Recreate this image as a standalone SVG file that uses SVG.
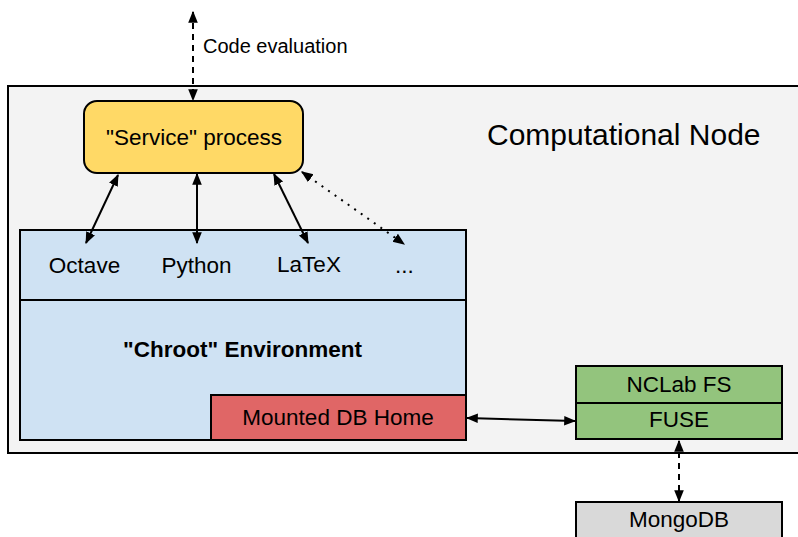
<svg xmlns="http://www.w3.org/2000/svg" width="798" height="537" viewBox="0 0 798 537">
<defs>
<style>
text{font-family:"Liberation Sans",Arial,sans-serif;fill:#000;font-size:22.5px}
.box{stroke:#000;stroke-width:2}
.ln{stroke:#000;stroke-width:2;fill:none}
.mid{text-anchor:middle}
</style>
<marker id="ahs" viewBox="0 0 10 10" refX="9" refY="5" markerWidth="12" markerHeight="12" orient="auto-start-reverse" markerUnits="userSpaceOnUse">
<path d="M0,1 L10,5 L0,9 z" fill="#000"/>
</marker>
</defs>
<rect width="798" height="537" fill="#fff"/>
<g id="computational-node">
<rect class="box" x="8" y="86" width="800" height="367" fill="#f3f3f3"/>
<text x="487" y="145" style="font-size:30px">Computational Node</text>
</g>
<g id="service-process">
<rect class="box" x="84" y="101" width="219" height="72" rx="13" fill="#ffd966"/>
<text class="mid" x="194" y="145">"Service" process</text>
</g>
<g id="chroot">
<rect class="box" x="20" y="230" width="446" height="210" fill="#cfe2f3"/>
<line class="ln" x1="20" y1="300" x2="466" y2="300"/>
<text class="mid" x="84.5" y="273">Octave</text>
<text class="mid" x="196.5" y="273">Python</text>
<text class="mid" x="309" y="271.5">LaTeX</text>
<text class="mid" x="404.5" y="273">...</text>
<text class="mid" x="242.5" y="357" font-weight="bold">"Chroot" Environment</text>
</g>
<g id="mounted-db-home">
<rect class="box" x="211" y="395" width="255" height="45" fill="#e06666"/>
<text class="mid" x="338" y="425">Mounted DB Home</text>
</g>
<g id="nclab-fs">
<rect class="box" x="576" y="366" width="206" height="37" fill="#93c47d"/>
<text class="mid" x="679" y="392">NCLab FS</text>
</g>
<g id="fuse">
<rect class="box" x="576" y="403" width="206" height="36" fill="#93c47d"/>
<text class="mid" x="679" y="427">FUSE</text>
</g>
<g id="mongodb">
<rect class="box" x="576" y="502" width="206" height="50" fill="#d9d9d9"/>
<text class="mid" x="679" y="527">MongoDB</text>
</g>
<g id="connectors">
<line class="ln" x1="193" y1="12" x2="193" y2="100" stroke-dasharray="6,5" marker-start="url(#ahs)" marker-end="url(#ahs)"/>
<text x="203" y="53" style="font-size:20px">Code evaluation</text>
<line class="ln" x1="118" y1="175" x2="86" y2="243" marker-start="url(#ahs)" marker-end="url(#ahs)"/>
<line class="ln" x1="197" y1="174" x2="197" y2="243" marker-start="url(#ahs)" marker-end="url(#ahs)"/>
<line class="ln" x1="274" y1="174" x2="308" y2="243" marker-start="url(#ahs)" marker-end="url(#ahs)"/>
<line class="ln" x1="302" y1="172" x2="404" y2="244" stroke-dasharray="2,6" marker-start="url(#ahs)" marker-end="url(#ahs)"/>
<line class="ln" x1="467" y1="418" x2="575" y2="421" marker-start="url(#ahs)" marker-end="url(#ahs)"/>
<line class="ln" x1="679" y1="441" x2="679" y2="501" stroke-dasharray="6,5" marker-start="url(#ahs)" marker-end="url(#ahs)"/>
</g>
</svg>
